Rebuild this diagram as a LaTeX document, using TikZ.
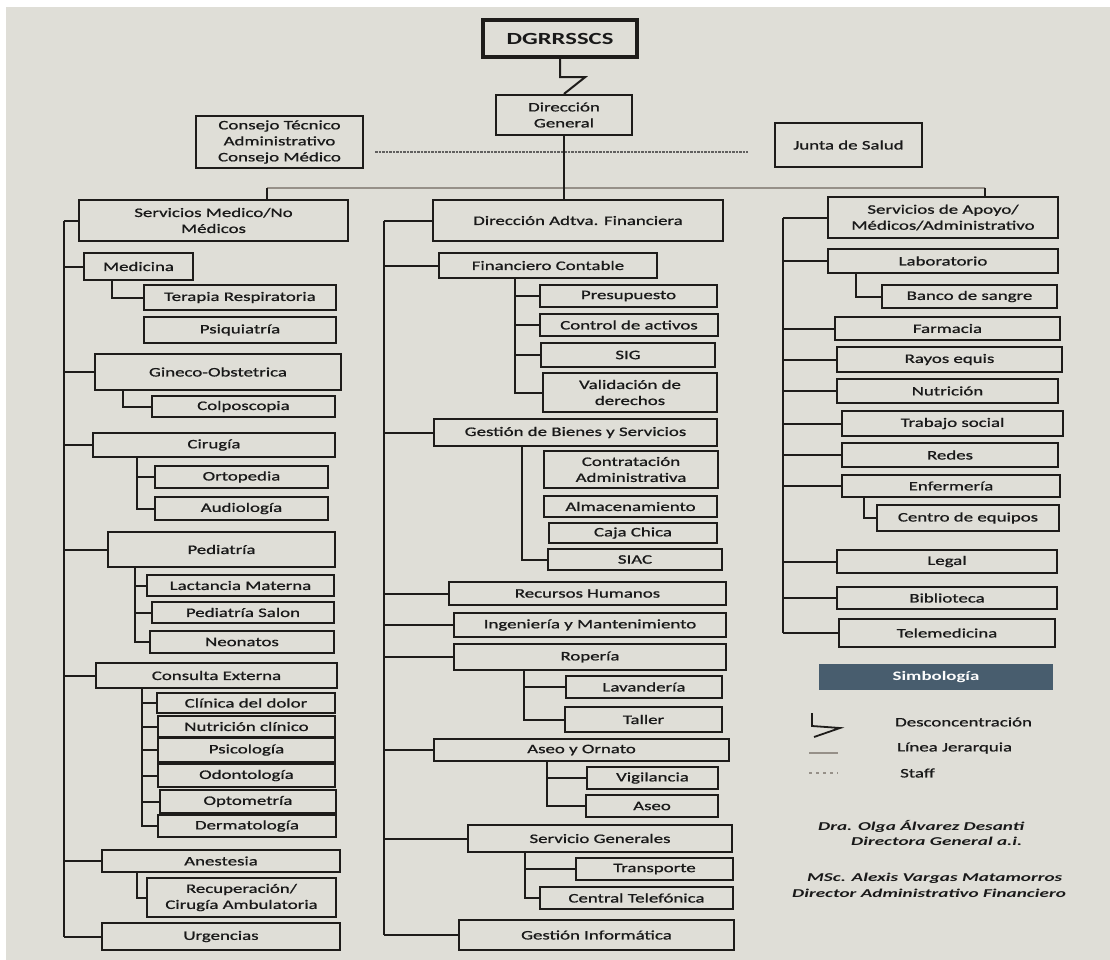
\documentclass[tikz,border=0pt]{standalone}
\usepackage{fontspec}
\setmainfont{Carlito}[FakeStretch=1.45, UprightFeatures={FakeBold=0.9}]
\newfontfamily\firmafont{Carlito}[FakeStretch=1.6]
\definecolor{fondo}{RGB}{223,222,215}
\definecolor{trazo}{RGB}{30,28,26}
\definecolor{texto}{RGB}{25,25,25}
\definecolor{barragris}{RGB}{150,144,136}
\definecolor{simbcol}{RGB}{72,93,110}
\tikzset{
  caja/.style={draw=trazo, line width=2.2pt, fill=fondo, inner sep=1pt, align=center,
    text=texto, font=\fontsize{13}{16}\selectfont},
  jer/.style={draw=trazo, line width=2pt},
  barra/.style={draw=barragris, line width=2pt},
  staff/.style={draw=trazo!70, line width=2.2pt, dash pattern=on 2.5pt off 1pt},
  staffley/.style={draw=barragris, line width=2pt, dash pattern=on 3pt off 4pt},
  leyenda/.style={anchor=west, inner sep=0pt, text=texto, font=\fontsize{13}{16}\selectfont},
  firma/.style={anchor=west, inner sep=0pt, text=texto, font=\firmafont\bfseries\itshape\fontsize{12}{14}\selectfont}
}
\begin{document}
\begin{tikzpicture}[x=1pt, y=-1pt]
  \useasboundingbox (0,0) rectangle (1110,960);
  \fill[white] (0,0) rectangle (1110,960);
  \fill[fondo] (6,7) rectangle (1110,960);
  % cabecera
  \node[caja, line width=4.5pt, minimum width=154pt, minimum height=37pt,
        font=\bfseries\fontsize{17}{18}\selectfont] (dgrr) at (560,38.5) {DGRRSSCS};
  \node[caja, minimum width=136pt, minimum height=40pt] (dirgen) at (564,115) {Dirección\\General};
  \node[caja, minimum width=167pt, minimum height=52pt] (ctac) at (279.5,142)
        {Consejo Técnico\\Administrativo\\Consejo Médico};
  \node[caja, minimum width=147pt, minimum height=44pt] (junta) at (848.5,145) {Junta de Salud};
  \draw[jer] (dgrr.south) -- ++(0,18) -- ++(25,0) -- (dirgen.north);
  \coordinate (stA) at (375,152);
  \coordinate (stB) at (748,152);
  \draw[staff] (stA) -- (stB);
  % columna izquierda
  \foreach \n/\cx/\cy/\w/\h/\t in {
    smn/213.5/220.5/269/41/{Servicios Medico/No\\Médicos},
    medicina/138.5/266.5/109/27/Medicina,
    terapia/240/297.5/192/25/Terapia Respiratoria,
    psiq/240/330/192/26/Psiquiatría,
    gineco/218/372/246/36/Gineco-Obstetrica,
    colpo/243.5/406.5/183/21/Colposcopia,
    cirugia/214/445/242/24/Cirugía,
    orto/241.5/477/173/22/Ortopedia,
    audio/241.5/508.5/173/23/Audiología,
    pedia/221.5/549.5/227/35/Pediatría,
    lact/240.5/585.5/187/21/Lactancia Materna,
    psalon/243/612.5/182/21/Pediatría Salon,
    neo/242/642/184/22/Neonatos,
    cext/216.5/675.5/241/25/Consulta Externa,
    cdolor/246/703/178/20/Clínica del dolor,
    nutcl/246.5/726.5/177/21/Nutrición clínico,
    psico/246.5/750/177/24/Psicología,
    odonto/246.5/775.5/177/23/Odontología,
    opto/248/801.5/176/23/Optometría,
    derma/247/826/178/22/Dermatología,
    anest/221/861/238/22/Anestesia,
    recup/241.5/897.5/189/39/{Recuperación/\\Cirugía Ambulatoria},
    urg/221/936.5/238/27/Urgencias}
    \node[caja, minimum width=\w pt, minimum height=\h pt] (\n) at (\cx,\cy) {\t};
  % columna central
  \foreach \n/\cx/\cy/\w/\h/\t in {
    daf/578/220.5/290/41/Dirección Adtva. Financiera,
    fcont/548/265.5/218/25/Financiero Contable,
    presu/628.5/296/177/22/Presupuesto,
    cact/629/325/178/22/Control de activos,
    sig/628/355/174/24/SIG,
    valid/630/392.5/174/39/{Validación de\\derechos},
    gbs/575.5/432.5/283/27/Gestión de Bienes y Servicios,
    contra/631/469.5/174/37/{Contratación\\Administrativa},
    almac/630.5/506.5/173/21/Almacenamiento,
    caja/633/533/168/20/Caja Chica,
    siac/635/559.5/174/21/SIAC,
    rrhh/587.5/593.5/277/23/Recursos Humanos,
    ingm/590/625/272/24/Ingeniería y Mantenimiento,
    ropa/590/657/272/26/Ropería,
    lav/644/687/156/22/Lavandería,
    taller/643.5/719.5/157/25/Taller,
    aseoy/581.5/750/295/22/Aseo y Ornato,
    vig/652.5/778/131/22/Vigilancia,
    aseo/652/806/132/22/Aseo,
    sgen/600/838.5/264/27/Servicio Generales,
    transp/654.5/869/157/22/Transporte,
    ctel/636.5/898/193/22/Central Telefónica,
    ginf/596.5/935/275/30/Gestión Informática}
    \node[caja, minimum width=\w pt, minimum height=\h pt] (\n) at (\cx,\cy) {\t};
  % columna derecha
  \foreach \n/\cx/\cy/\w/\h/\t in {
    sam/943/217.5/230/41/{Servicios de Apoyo/\\Médicos/Administrativo},
    lab/943/261/230/24/Laboratorio,
    banco/969.5/296.5/175/23/Banco de sangre,
    farm/947.5/328.5/225/23/Farmacia,
    rayos/949.5/359.5/225/25/Rayos equis,
    nutr/947.5/391/221/24/Nutrición,
    tsoc/952.5/423.5/221/25/Trabajo social,
    redes/950/455/216/24/Redes,
    enf/951/486/218/22/Enfermería,
    cequ/968/518/182/26/Centro de equipos,
    legal/947/561.5/220/23/Legal,
    biblio/947/598/220/22/Biblioteca,
    tele/947/633/216/28/Telemedicina}
    \node[caja, minimum width=\w pt, minimum height=\h pt] (\n) at (\cx,\cy) {\t};
  % linea jerarquica superior
  \coordinate (barL) at (267,188);
  \coordinate (barR) at (985,188);
  \draw[barra] (barL) -- (barR);
  \draw[jer] (dirgen.south) -- (dirgen.south |- daf.north);
  \draw[jer, line width=1.4pt] (barL) -- (barL |- smn.north);
  \draw[jer, line width=1.4pt] (barR) -- (barR |- sam.north);
  % troncos
  \coordinate (tL) at (64,0);
  \coordinate (tM) at (384,0);
  \coordinate (tR) at (783,0);
  \draw[jer] (smn.west -| tL) -- (urg.west -| tL);
  \foreach \b in {smn,medicina,gineco,cirugia,pedia,cext,anest,urg}
    \draw[jer] (\b.west -| tL) -- (\b.west);
  \draw[jer] (daf.west -| tM) -- (ginf.west -| tM);
  \foreach \b in {daf,fcont,gbs,rrhh,ingm,ropa,aseoy,sgen,ginf}
    \draw[jer] (\b.west -| tM) -- (\b.west);
  \draw[jer] (sam.west -| tR) -- (tele.west -| tR);
  \foreach \b in {sam,lab,farm,rayos,nutr,tsoc,redes,enf,legal,biblio,tele}
    \draw[jer] (\b.west -| tR) -- (\b.west);
  % ramas
  \foreach \p/\dx/\cs in {medicina/29/{terapia}, gineco/29/{colpo},
      cirugia/45/{orto,audio}, pedia/28/{lact,psalon,neo},
      cext/47/{cdolor,nutcl,psico,odonto,opto,derma}, anest/36/{recup},
      fcont/77/{presu,cact,sig,valid}, gbs/89/{siac}, ropa/71/{lav,taller},
      aseoy/114/{vig,aseo}, sgen/58/{transp,ctel}, lab/29/{banco}, enf/23/{cequ}}
    \foreach \c in \cs
      \draw[jer] ([xshift=\dx pt]\p.south west) |- (\c.west);
  % simbologia
  \node[fill=simbcol, minimum width=234pt, minimum height=26pt, text=white!92!fondo,
        font=\bfseries\fontsize{13}{16}\selectfont] (simb) at (936,677) {Simbología};
  \draw[jer, line width=1.8pt] (812,713) -- (812,726) -- (840,728) -- (814,737);
  \draw[barra] (809,753) -- (838,753);
  \draw[staffley] (809,773) -- (838,773);
  \node[leyenda] (ldes) at (895,722) {Desconcentración};
  \node[leyenda] (ljer) at (897,748) {Línea Jerarquia};
  \node[leyenda] (lsta) at (900,773) {Staff};
  \node[firma] (f1) at (818,826) {Dra. Olga Álvarez Desanti};
  \node[firma] (f2) at (851,841) {Directora General a.i.};
  \node[firma] (f3) at (807,878) {MSc. Alexis Vargas Matamorros};
  \node[firma] (f4) at (792,893) {Director Administrativo Financiero};
\end{tikzpicture}
\end{document}
